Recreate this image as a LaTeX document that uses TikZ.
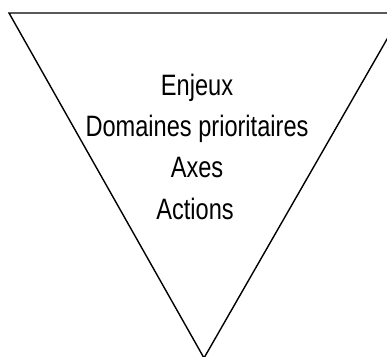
\documentclass[tikz,border=0pt]{standalone}
\usepackage{fontspec}
\setmainfont{Liberation Sans}[FakeStretch=0.8]
\begin{document}
\begin{tikzpicture}[x=1pt,y=1pt,
  label text/.style={anchor=base, inner sep=0pt, font=\fontsize{29.5}{34}\selectfont},
  funnel/.style={draw=black, line width=1.4pt, line join=miter}]
\useasboundingbox (0,0) rectangle (387,356);
\clip (0,0) rectangle (387,356);
\fill[white] (0,0) rectangle (387,356);
\coordinate (tl) at (9,343);
\coordinate (tr) at (402,343);
\coordinate (ap) at (204,-2);
\draw[funnel] (tl) -- (tr) -- (ap) -- cycle;
\node[label text] (enjeux) at (197,260) {Enjeux};
\node[label text] (domaines) at (197,219) {Domaines prioritaires};
\node[label text] (axes) at (197,178) {Axes};
\node[label text] (actions) at (195,137) {Actions};
\end{tikzpicture}
\end{document}
